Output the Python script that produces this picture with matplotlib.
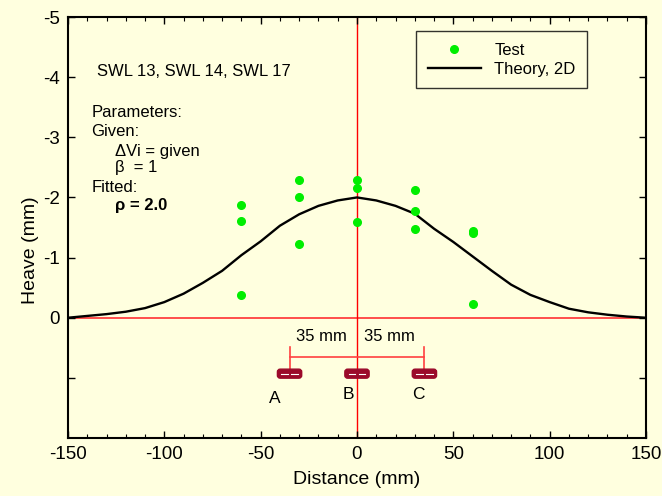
import numpy as np
import matplotlib.pyplot as plt
from matplotlib.patches import FancyBboxPatch

plt.rcParams['font.family'] = ['Liberation Sans', 'DejaVu Sans']
plt.rcParams['axes.unicode_minus'] = False

# Datos de ensayo (Test)
test_x = [-60, -60, -60, -30, -30, -30, 0, 0, 0, 30, 30, 30, 60, 60, 60]
test_heave = [-1.88, -1.61, -0.37, -2.29, -2.01, -1.23, -2.29, -2.16, -1.59,
              -2.12, -1.78, -1.48, -1.45, -1.41, -0.22]

# Curva teorica 2D
theory_x = [-150, -140, -130, -120, -110, -100, -90, -80, -70, -60, -50,
            -40, -30, -20, -10, 0, 10, 20, 30, 40, 50, 60, 70, 80, 90,
            100, 110, 120, 130, 140, 150]
theory_heave = [0.0, -0.03, -0.06, -0.10, -0.16, -0.26, -0.40, -0.58, -0.78,
                -1.04, -1.27, -1.53, -1.72, -1.86, -1.95, -2.0, -1.95, -1.86,
                -1.73, -1.48, -1.26, -1.02, -0.78, -0.55, -0.38, -0.26, -0.15,
                -0.09, -0.05, -0.02, 0.0]

# Sensores
sensor_x = [-35, 0, 35]
sensor_names = ['A', 'B', 'C']

bg = '#FFFFDF'
fig = plt.figure(figsize=(6.62, 4.96), dpi=100, facecolor=bg)
ax = fig.add_axes([0.1027, 0.1169, 0.8731, 0.8488], facecolor=bg)

ax.set_xlim(-150, 150)
ax.set_ylim(2, -5)

# Lineas de referencia
ax.axhline(0, color='#FF4040', lw=1.3, zorder=1)
ax.axvline(0, color='#FF0000', lw=1.0, zorder=1)

theory_line, = ax.plot(theory_x, theory_heave, color='black', lw=1.7,
                       label='Theory, 2D', zorder=3)
test_pts, = ax.plot(test_x, test_heave, 'o', color='#00EE00', ms=5.5,
                    mec='#00EE00', label='Test', zorder=4)

# Cota de 35 mm
ax.plot([sensor_x[0], sensor_x[2]], [0.65, 0.65], color='#FF4040', lw=1.2)
for sx in [sensor_x[0], sensor_x[2]]:
    ax.plot([sx, sx], [0.48, 0.88], color='#FF4040', lw=1.2)
ax.text(-18.5, 0.31, '35 mm', ha='center', va='center', fontsize=12)
ax.text(16.6, 0.31, '35 mm', ha='center', va='center', fontsize=12)

# Sensores A, B, C
for sx, name, dx, dy in zip(sensor_x, sensor_names, [-7.6, -4.7, -3.3], [1.34, 1.28, 1.28]):
    box = FancyBboxPatch((sx - 5.8, 0.87), 11.6, 0.12,
                         boxstyle='round,pad=0.5,rounding_size=1.5',
                         mutation_aspect=0.03,
                         fc='#9B0A2A', ec='#9B0A2A', lw=1, zorder=5)
    ax.add_patch(box)
    ax.plot([sx - 4.2, sx - 0.8], [0.93, 0.93], color='white', lw=0.8, zorder=6)
    ax.plot([sx + 0.8, sx + 4.2], [0.93, 0.93], color='white', lw=0.8, zorder=6)
    ax.text(sx + dx, dy, name, ha='center', va='center', fontsize=12.5)

# Textos
ax.text(-135.2, -4.1, 'SWL 13, SWL 14, SWL 17', va='center', fontsize=12)
ax.text(-137.8, -3.41, 'Parameters:', va='center', fontsize=12)
ax.text(-137.8, -3.09, 'Given:', va='center', fontsize=12)
ax.text(-125.8, -2.77, '\u0394Vi = given', va='center', fontsize=12)
ax.text(-125.8, -2.49, '\u03b2  = 1', va='center', fontsize=12)
ax.text(-137.8, -2.16, 'Fitted:', va='center', fontsize=12)
ax.text(-125.8, -1.86, '\u03c1 = 2.0', va='center', fontsize=12, fontweight='bold')

# Ejes
ax.set_xticks(np.arange(-150, 151, 50))
ax.set_xticks(np.arange(-150, 151, 10), minor=True)
ax.set_yticks([-5, -4, -3, -2, -1, 0, 1])
ax.set_yticklabels(['-5', '-4', '-3', '-2', '-1', '0', ''])
ax.tick_params(which='both', direction='in', top=True, right=True, labelsize=13.5)
ax.tick_params(which='major', length=5, width=1)
ax.tick_params(which='minor', length=3, width=0.8)
ax.tick_params(axis='x', pad=6)
ax.tick_params(axis='y', pad=6)
for s in ax.spines.values():
    s.set_linewidth(1.5)

ax.set_xlabel('Distance (mm)', fontsize=14)
ax.set_ylabel('Heave (mm)', fontsize=14)
ax.xaxis.set_label_coords(0.5, -0.078)
ax.yaxis.set_label_coords(-0.05, 0.447)

leg = ax.legend(handles=[test_pts, theory_line],
                loc='upper left', bbox_to_anchor=(0.602, 0.967),
                fontsize=12, frameon=True, fancybox=False, facecolor=bg,
                edgecolor='black', handlelength=3.2, handletextpad=0.8,
                borderpad=0.7, labelspacing=0.25, borderaxespad=0)
leg.get_frame().set_linewidth(1.0)

fig.savefig('out.png', dpi=100, facecolor=bg)
